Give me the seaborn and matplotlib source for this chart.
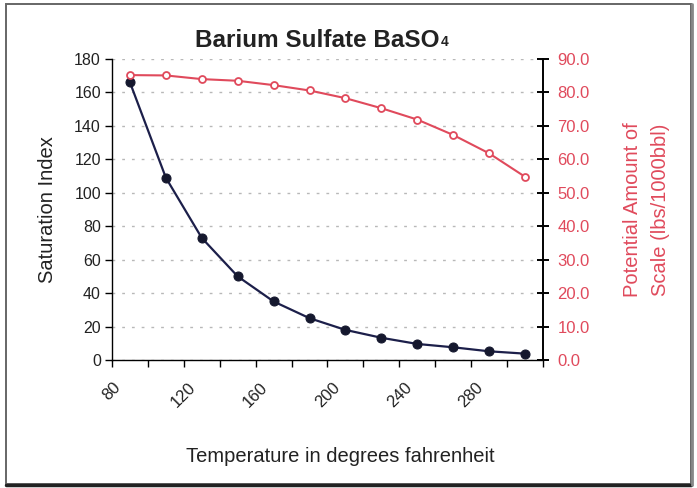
import matplotlib
matplotlib.use("Agg")
import matplotlib.pyplot as plt
import matplotlib.transforms as mtransforms
from matplotlib.patches import Rectangle
import seaborn as sns
import pandas as pd

# Temperature (deg F) and the two computed series
temperature = [90, 110, 130, 150, 170, 190, 210, 230, 250, 270, 290, 310]
saturation_index = [166, 109, 73, 50, 35, 25, 18, 13.3, 9.6, 7.6, 5.2, 3.8]
scale_amount = [85.2, 85.1, 84.0, 83.5, 82.2, 80.6, 78.3, 75.3, 71.9, 67.3, 61.8, 54.8]

x_ticks = [80, 100, 120, 140, 160, 180, 200, 220, 240, 260, 280, 300, 320]
x_tick_labels = ["80", "", "120", "", "160", "", "200", "", "240", "", "280", "", ""]
left_ticks = [0, 20, 40, 60, 80, 100, 120, 140, 160, 180]
right_ticks = [0, 10, 20, 30, 40, 50, 60, 70, 80, 90]

df = pd.DataFrame({"temp": temperature, "si": saturation_index, "scale": scale_amount})

sns.set_theme(style="white")
plt.rcParams["font.family"] = ["Liberation Sans", "DejaVu Sans"]

RED = "#e04a5c"
NAVY = "#1c1f4a"
TXT = "#222222"

fig = plt.figure(figsize=(6.97, 4.88), dpi=100)
ax = fig.add_axes([0.1607, 0.2623, 0.779 - 0.1607, 0.879 - 0.2623])
ax2 = ax.twinx()

# outer chart frame with a darker shadow on the right and bottom
fig.patches.append(Rectangle((0.008, 0.008), 0.984, 0.984, transform=fig.transFigure,
                             fill=False, edgecolor="#666666", linewidth=1.4))
fig.lines.append(plt.Line2D([0.008, 0.992], [0.006, 0.006], transform=fig.transFigure,
                            color="#222222", linewidth=2.5))
fig.lines.append(plt.Line2D([0.993, 0.993], [0.006, 0.992], transform=fig.transFigure,
                            color="#888888", linewidth=2.0))

sns.lineplot(data=df, x="temp", y="si", ax=ax, color=NAVY, linewidth=1.6,
             marker="o", markersize=6.5, markerfacecolor="#15182e",
             markeredgecolor="#15182e")
sns.lineplot(data=df, x="temp", y="scale", ax=ax2, color=RED, linewidth=1.5,
             marker="o", markersize=5, markerfacecolor="white",
             markeredgecolor=RED, markeredgewidth=1.3)

ax.set_xlim(80, 320)
ax.set_ylim(0, 180)
ax2.set_ylim(0, 90)

ax.set_xticks(x_ticks)
ax.set_xticklabels(x_tick_labels, rotation=45, ha="center", fontsize=12, color=TXT)
shift = mtransforms.ScaledTranslation(-6 / 100, -2 / 100, fig.dpi_scale_trans)
for lbl in ax.get_xticklabels():
    lbl.set_transform(lbl.get_transform() + shift)
ax.set_yticks(left_ticks)
ax.set_yticklabels([str(v) for v in left_ticks], fontsize=11.5, color=TXT)
ax2.set_yticks(right_ticks)
ax2.set_yticklabels([f"{v:.1f}" for v in right_ticks], fontsize=12, color=RED)

ax.spines["top"].set_visible(False)
ax2.spines["top"].set_visible(False)
ax.spines["right"].set_visible(False)
ax2.spines["left"].set_visible(False)
ax2.spines["bottom"].set_visible(False)
for s in ("left", "bottom"):
    ax.spines[s].set_color("black")
    ax.spines[s].set_linewidth(1.0)
ax2.spines["right"].set_color("black")
ax2.spines["right"].set_linewidth(1.4)

ax.tick_params(axis="y", direction="out", length=5, width=1, color="black", pad=3, left=True)
ax.tick_params(axis="x", direction="out", length=5, width=1, color="black", pad=9, bottom=True)
ax2.tick_params(axis="y", direction="inout", length=9, width=1.4, color="black", pad=6, right=True)

ax.yaxis.grid(True, linestyle=(0, (2, 5)), color="#b8b8b8", linewidth=1.0)
ax.xaxis.grid(False)
ax2.grid(False)

ax.set_xlabel("Temperature in degrees fahrenheit", fontsize=14.5, color=TXT)
ax.xaxis.set_label_coords(0.529, -0.29)
ax.set_ylabel("Saturation Index", fontsize=14.5, color=TXT, labelpad=12)
ax2.set_ylabel("Potential Amount of\nScale (lbs/1000bbl)", fontsize=14.5, color=RED,
               labelpad=24, linespacing=1.6)

# title with a small subscript digit
title = fig.text(0.455, 0.918, "Barium Sulfate BaSO", ha="center", va="center",
                 fontsize=17.5, fontweight="bold", color=TXT)
fig.canvas.draw()
bb = title.get_window_extent(renderer=fig.canvas.get_renderer())
fig.text((bb.x1 + 1) / fig.bbox.width, (bb.y0 + 3) / fig.bbox.height, "4",
         ha="left", va="bottom", fontsize=10, fontweight="bold", color=TXT)

fig.savefig("out.png", dpi=100)
